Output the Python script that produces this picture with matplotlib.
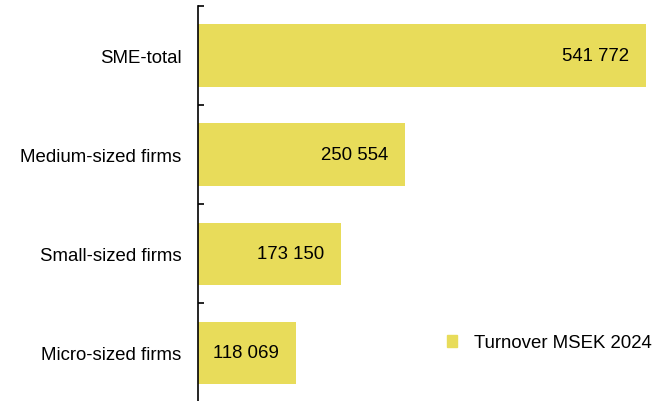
import numpy as np
import matplotlib
matplotlib.use("Agg")
import matplotlib.pyplot as plt
from matplotlib.patches import Patch

plt.rcParams['font.family'] = ['Liberation Sans', 'DejaVu Sans']

categories = ["SME-total", "Medium-sized firms", "Small-sized firms", "Micro-sized firms"]
turnover = [541772, 250554, 173150, 118069]
series_name = "Turnover MSEK 2024"
bar_color = "#E8DC5A"

fig = plt.figure(figsize=(6.54, 4.02), dpi=100)
ax = fig.add_axes([198 / 654, -1.5 / 402, 448 / 654, 396.5 / 402])

y = np.arange(len(categories))
bars = ax.barh(y, turnover, height=0.63, color=bar_color)
ax.set_ylim(len(categories) - 0.5, -0.5)
ax.set_xlim(0, max(turnover))

ax.set_yticks(y)
ax.set_yticklabels(categories, fontsize=13.4)
ax.tick_params(axis='y', which='major', length=0, pad=12)
ax.set_yticks(np.arange(-0.5, len(categories), 1.0), minor=True)
ax.tick_params(axis='y', which='minor', length=4, width=1.2, direction='in')
ax.set_xticks([])
for s in ['top', 'right', 'bottom']:
    ax.spines[s].set_visible(False)
ax.spines['left'].set_linewidth(1.2)

for b, v in zip(bars, turnover):
    label = f"{v:,}".replace(",", " ")
    ax.annotate(label, (b.get_width(), b.get_y() + b.get_height() / 2),
                xytext=(-12, 0), textcoords='offset points',
                ha='right', va='center', fontsize=13.4)

handle = Patch(color=bar_color)
fig.legend([handle], [series_name], loc='center left',
           bbox_to_anchor=(447 / 654, 1 - 344 / 402), frameon=False,
           fontsize=13.4, handlelength=0.55, handleheight=0.55,
           handletextpad=0.9, borderpad=0, borderaxespad=0)

fig.savefig("out.png", dpi=100)
